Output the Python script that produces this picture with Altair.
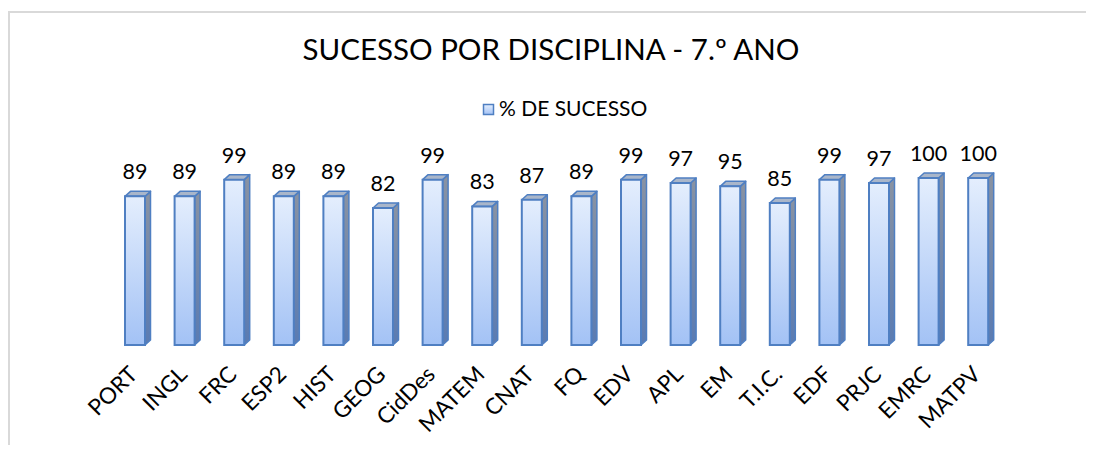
import altair as alt
import pandas as pd

# ---- data ----
categories = ["PORT", "INGL", "FRC", "ESP2", "HIST", "GEOG", "CidDes", "MATEM", "CNAT",
              "FQ", "EDV", "APL", "EM", "T.I.C.", "EDF", "PRJC", "EMRC", "MATPV"]
values = [89, 89, 99, 89, 89, 82, 99, 83, 87, 89, 99, 97, 95, 85, 99, 97, 100, 100]
series_name = "% DE SUCESSO"
title_text = "SUCESSO POR DISCIPLINA - 7.º ANO"

# ---- layout constants (pixels) ----
W, H = 1078, 433            # view size (fits the window)
PX_PER_CAT = 49.6           # spacing between bars
PX_PER_PCT = 1.67           # vertical scale
FIRST_CENTER = 127          # first bar center, from view left
ZERO_Y = 333                # baseline, from view top
FRONT_HALF = 10             # half width of the front face
DEPTH_X, DEPTH_Y = 5.5, 5   # 3D depth offset

x_min = -FIRST_CENTER / PX_PER_CAT
x_max = x_min + W / PX_PER_CAT
y_max = ZERO_Y / PX_PER_PCT
y_min = y_max - H / PX_PER_PCT

hw = FRONT_HALF / PX_PER_CAT
ddx = DEPTH_X / PX_PER_CAT
ddy = DEPTH_Y / PX_PER_PCT

front = pd.DataFrame({
    "cat": categories,
    "i": range(len(categories)),
    "v": values,
    "serie": series_name,
})
front["xl"] = front["i"] - hw
front["xr"] = front["i"] + hw
front["zero"] = 0

side_rows, top_rows = [], []
for i, (c, v) in enumerate(zip(categories, values)):
    side_rows.append({"cat": c, "x": i + hw, "y": v, "y2": 0})
    side_rows.append({"cat": c, "x": i + hw + ddx, "y": v + ddy, "y2": ddy})
    top_rows.append({"cat": c, "y": v, "x": i - hw, "x2": i + hw})
    top_rows.append({"cat": c, "y": v + ddy, "x": i - hw + ddx, "x2": i + hw + ddx})
side = pd.DataFrame(side_rows)
top = pd.DataFrame(top_rows)

frame = pd.DataFrame({"fx": [x_min + 1 / PX_PER_CAT], "fy": [y_max]})

xs = alt.Scale(domain=[x_min, x_max], nice=False, zero=False)
ys = alt.Scale(domain=[y_min, y_max], nice=False, zero=False)

FONT = "Lato"
EDGE = "#4f7fc2"
FRAME = "#d9d9d9"

front_grad = alt.Gradient(gradient="linear", x1=0, x2=0, y1=0, y2=1,
                          stops=[alt.GradientStop(color="#e4eefd", offset=0),
                                 alt.GradientStop(color="#a3c2f5", offset=1)])
side_grad = alt.Gradient(gradient="linear", x1=0, x2=0, y1=0, y2=1,
                         stops=[alt.GradientStop(color="#8a93a2", offset=0),
                                alt.GradientStop(color="#5a7bb2", offset=1)])

# chart frame (left and top edges; the rest lies outside the window)
frame_left = alt.Chart(frame).mark_rule(color=FRAME, strokeWidth=2).encode(
    x=alt.X("fx:Q", scale=xs, axis=None),
)
frame_top = alt.Chart(frame).mark_rule(color=FRAME, strokeWidth=2).encode(
    y=alt.Y("fy:Q", scale=ys, axis=None),
)

side_layer = alt.Chart(side).mark_area(fill=side_grad, stroke=EDGE, strokeWidth=1.5,
                                        strokeJoin="round").encode(
    x=alt.X("x:Q", scale=xs, axis=None),
    y=alt.Y("y:Q", scale=ys, axis=None),
    y2="y2:Q",
    detail="cat:N",
)

top_layer = alt.Chart(top).mark_area(orient="horizontal", fill="#a9b6ca", stroke=EDGE,
                                       strokeWidth=1.5, strokeJoin="round").encode(
    y=alt.Y("y:Q", scale=ys, axis=None),
    x=alt.X("x:Q", scale=xs, axis=None),
    x2="x2:Q",
    detail="cat:N",
)

front_layer = alt.Chart(front).mark_rect(fill=front_grad, strokeWidth=2).encode(
    x=alt.X("xl:Q", scale=xs, axis=None),
    x2="xr:Q",
    y=alt.Y("zero:Q", scale=ys, axis=None),
    y2="v:Q",
    stroke=alt.Stroke("serie:N",
                      scale=alt.Scale(domain=[series_name], range=[EDGE]),
                      legend=alt.Legend(title=None, orient="none", legendX=470, legendY=87,
                                        symbolType="square", symbolSize=100,
                                        symbolFillColor="#c6dbfa", symbolStrokeWidth=1.5,
                                        labelFont=FONT, labelFontSize=21, labelColor="#000000",
                                        labelOffset=0)),
)

value_labels = alt.Chart(front).mark_text(font=FONT, fontSize=21.5, color="#000000",
                                          baseline="alphabetic", dy=-17).encode(
    x=alt.X("i:Q", scale=xs, axis=None),
    y=alt.Y("v:Q", scale=ys, axis=None),
    text="v:Q",
)

cat_labels = alt.Chart(front).mark_text(font=FONT, fontSize=22.5, color="#000000",
                                        angle=315, align="right", baseline="middle",
                                        dx=-19, dy=17.5).encode(
    x=alt.X("i:Q", scale=xs, axis=None),
    y=alt.Y("zero:Q", scale=ys, axis=None),
    text="cat:N",
)

chart = alt.layer(frame_left, frame_top, side_layer, top_layer, front_layer,
                  value_labels, cat_labels).properties(
    width=W, height=H,
    autosize=alt.AutoSizeParams(type="none"),
    padding={"left": 0, "top": 4, "right": 0, "bottom": 0},
    title=alt.TitleParams(title_text, font=FONT, fontSize=29.5, fontWeight="normal",
                          color="#000000", anchor="middle", baseline="alphabetic",
                          offset=0, dy=78, dx=4),
).configure_view(stroke=None).configure(background="white")

chart.save("out.html", embed_options={"renderer": "svg", "actions": False})
